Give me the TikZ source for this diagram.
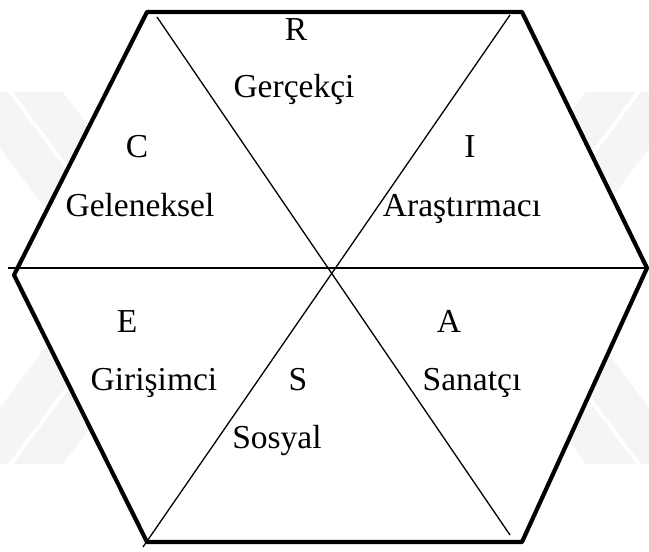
\documentclass[tikz,border=0pt]{standalone}
\usepackage{fontspec}
\setmainfont{Liberation Serif}
\begin{document}
\begin{tikzpicture}[x=1pt,y=-1pt,
  wmark/.style={fill=black!4,draw=none},
  hexedge/.style={line width=4.2pt,line join=round,fill=white},
  divider/.style={line width=1.3pt},
  lbl/.style={anchor=base,inner sep=0pt,font=\fontsize{33.5}{40}\selectfont}]
\useasboundingbox (0,0) rectangle (649,552);
% faint watermark chevrons
\fill[wmark] (13,92) -- (63,92) -- (202,278) -- (63,464) -- (13,464) -- (152,278) -- cycle;
\fill[wmark] (-42,92) -- (8,92) -- (147,278) -- (8,464) -- (-42,464) -- (97,278) -- cycle;
\fill[wmark] (636,92) -- (586,92) -- (447,278) -- (586,464) -- (636,464) -- (497,278) -- cycle;
\fill[wmark] (691,92) -- (641,92) -- (502,278) -- (641,464) -- (691,464) -- (552,278) -- cycle;
% hexagon vertices
\coordinate (tl) at (147,12);
\coordinate (tr) at (522,12);
\coordinate (rt) at (647,268);
\coordinate (br) at (522,542);
\coordinate (bl) at (147,542);
\coordinate (lt) at (14,275);
\draw[hexedge] (tl) -- (tr) -- (rt) -- (br) -- (bl) -- (lt) -- cycle;
% dividing lines
\coordinate (d1a) at (157,17);
\coordinate (d1b) at (510,535);
\coordinate (d2a) at (510,15);
\coordinate (d2b) at (143,547);
\coordinate (hl) at (8,268);
\coordinate (hr) at (646,268);
\draw[divider] (d1a) -- (d1b);
\draw[divider] (d2a) -- (d2b);
\draw[divider] (hl) -- (hr);
% labels
\node[lbl] (r) at (296,40) {R};
\node[lbl] (rt1) at (294,97) {Gerçekçi};
\node[lbl] (c) at (137,157) {C};
\node[lbl] (ct) at (140,216) {Geleneksel};
\node[lbl] (i) at (470,157) {I};
\node[lbl] (it) at (462,216) {Araştırmacı};
\node[lbl] (e) at (127,332) {E};
\node[lbl] (et) at (154,390) {Girişimci};
\node[lbl] (s) at (298,390) {S};
\node[lbl] (st) at (277,448) {Sosyal};
\node[lbl] (a) at (449,332) {A};
\node[lbl] (at1) at (472,390) {Sanatçı};
\end{tikzpicture}
\end{document}
